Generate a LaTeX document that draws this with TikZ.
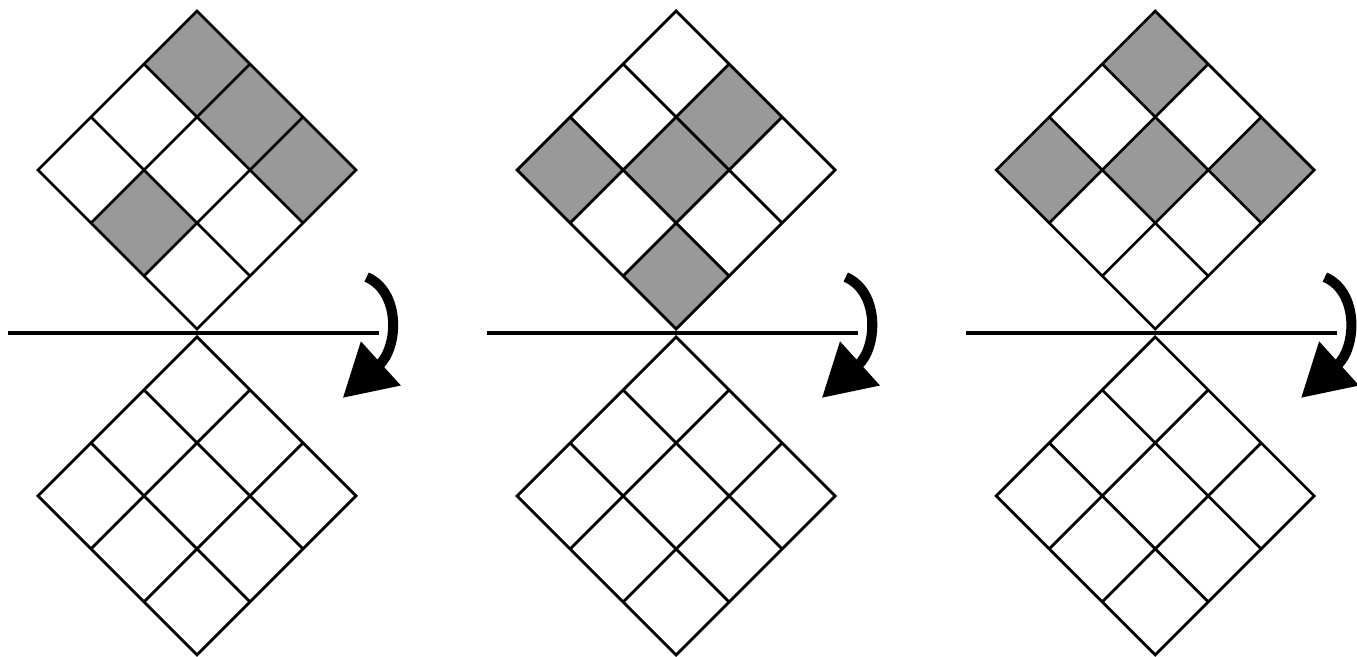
\documentclass[tikz,border=0pt]{standalone}
\usetikzlibrary{arrows.meta}
\begin{document}
\begin{tikzpicture}
    \tikzset{cell/.style = {fill=black!40}, board/.style = {line width=1.5pt,line join=miter}, cut/.style = {line width=2.6pt}, turn/.style = {line width=5.4pt,-{Triangle[length=0.97cm,width=1.07cm]}}}
    \useasboundingbox (-3.717,-9.17) rectangle (21.887,3.208);
    % first pair
    \def\x{0}
    \def\y{0}
    \begin{scope}[shift={(\x,\y-3)},rotate=45,scale=1.4142]
     \fill[cell] (2,2) rectangle (3,3);
     \fill[cell] (2,1) rectangle (3,2);
     \fill[cell] (2,0) rectangle (3,1);
     \fill[cell] (0,1) rectangle (1,2);
     \draw[board] (0,0) rectangle (3,3);
     \foreach \k in {1,2} {\draw[board] (\k,0) -- (\k,3); \draw[board] (0,\k) -- (3,\k);}
    \end{scope}
    \begin{scope}[shift={(\x,\y-9.15)},rotate=45,scale=1.4142]
     \draw[board] (0,0) rectangle (3,3);
     \foreach \k in {1,2} {\draw[board] (\k,0) -- (\k,3); \draw[board] (0,\k) -- (3,\k);}
    \end{scope}
     \coordinate (L1) at (\x-3.57,\y-3.075);
     \coordinate (R1) at (\x+3.43,\y-3.075);
     \coordinate (S1) at (\x+3.2,\y-2.02);
     \coordinate (E1) at (\x+2.75,\y-4.3);
    \draw[cut](L1) --(R1);
    \draw[turn](S1) .. controls (\x+3.85,\y-2.3) and (\x+3.8,\y-3.35) .. (E1);

    % second pair
    \def\x{9.04}
    \begin{scope}[shift={(\x,\y-3)},rotate=45,scale=1.4142]
     \fill[cell] (2,1) rectangle (3,2);
     \fill[cell] (0,2) rectangle (1,3);
     \fill[cell] (1,1) rectangle (2,2);
     \fill[cell] (0,0) rectangle (1,1);
     \draw[board] (0,0) rectangle (3,3);
     \foreach \k in {1,2} {\draw[board] (\k,0) -- (\k,3); \draw[board] (0,\k) -- (3,\k);}
    \end{scope}
    \begin{scope}[shift={(\x,\y-9.15)},rotate=45,scale=1.4142]
     \draw[board] (0,0) rectangle (3,3);
     \foreach \k in {1,2} {\draw[board] (\k,0) -- (\k,3); \draw[board] (0,\k) -- (3,\k);}
    \end{scope}
     \coordinate (L2) at (\x-3.57,\y-3.075);
     \coordinate (R2) at (\x+3.43,\y-3.075);
     \coordinate (S2) at (\x+3.2,\y-2.02);
     \coordinate (E2) at (\x+2.75,\y-4.3);
    \draw[cut](L2) --(R2);
    \draw[turn](S2) .. controls (\x+3.85,\y-2.3) and (\x+3.8,\y-3.35) .. (E2);

    % third pair
    \def\x{18.08}
    \begin{scope}[shift={(\x,\y-3)},rotate=45,scale=1.4142]
     \fill[cell] (2,2) rectangle (3,3);
     \fill[cell] (0,2) rectangle (1,3);
     \fill[cell] (1,1) rectangle (2,2);
     \fill[cell] (2,0) rectangle (3,1);
     \draw[board] (0,0) rectangle (3,3);
     \foreach \k in {1,2} {\draw[board] (\k,0) -- (\k,3); \draw[board] (0,\k) -- (3,\k);}
    \end{scope}
    \begin{scope}[shift={(\x,\y-9.15)},rotate=45,scale=1.4142]
     \draw[board] (0,0) rectangle (3,3);
     \foreach \k in {1,2} {\draw[board] (\k,0) -- (\k,3); \draw[board] (0,\k) -- (3,\k);}
    \end{scope}
     \coordinate (L3) at (\x-3.57,\y-3.075);
     \coordinate (R3) at (\x+3.43,\y-3.075);
     \coordinate (S3) at (\x+3.2,\y-2.02);
     \coordinate (E3) at (\x+2.75,\y-4.3);
    \draw[cut](L3) --(R3);
    \draw[turn](S3) .. controls (\x+3.85,\y-2.3) and (\x+3.8,\y-3.35) .. (E3);
\end{tikzpicture}
\end{document}
